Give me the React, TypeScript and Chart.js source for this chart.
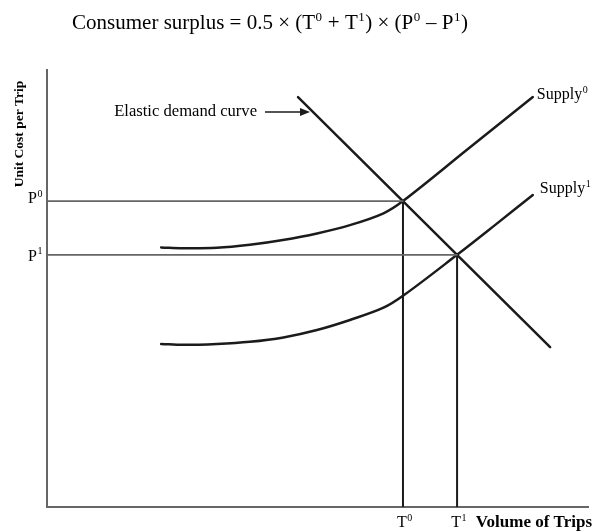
import React, { useEffect, useRef } from "react";
import { Chart, registerables } from "chart.js";

Chart.register(...registerables);

// Economic schematic: values in arbitrary units (0-100)
const T0 = 65.8;
const T1 = 75.8;
const P0 = 70.0;
const P1 = 57.7;

const demandX = [46.4, 93.0];
const demandY = [93.8, 36.6];

const supply0X = [21.1, 25.1, 31.4, 37.5, 43.6, 49.9, 56.0, 62.2, 65.8, 77.8, 89.8];
const supply0Y = [59.4, 59.2, 59.3, 60.0, 61.1, 62.6, 64.5, 67.2, 70.0, 81.9, 93.8];

const supply1X = [21.1, 25.2, 31.4, 37.5, 43.7, 49.9, 56.0, 62.2, 66.0, 75.8, 82.8, 89.8];
const supply1Y = [37.3, 37.1, 37.3, 37.8, 38.8, 40.5, 42.8, 45.6, 48.5, 57.7, 64.5, 71.4];

// "^x" marks a superscript character
const titleText = "Consumer surplus = 0.5 \u00d7 (T^0 + T^1) \u00d7 (P^0 \u2013 P^1)";
const yAxisTitle = "Unit Cost per Trip";
const xAxisTitle = "Volume of Trips";
const priceLabels = ["P^0", "P^1"];
const tripLabels = ["T^0", "T^1"];
const supplyLabels = ["Supply^0", "Supply^1"];
const demandLabel = "Elastic demand curve";
const demandLabelY = 90.4;

const zip = (xs: number[], ys: number[]) => xs.map((x, i) => ({ x, y: ys[i] }));

const SERIF = '"Liberation Serif", "Times New Roman", serif';
const INK = "#1b1b1b";
const GUIDE = "#666666";

function parseRich(s: string) {
  const parts: { t: string; sup: boolean }[] = [];
  let buf = "";
  for (let i = 0; i < s.length; i++) {
    if (s[i] === "^" && i + 1 < s.length) {
      if (buf) parts.push({ t: buf, sup: false });
      buf = "";
      parts.push({ t: s[i + 1], sup: true });
      i++;
    } else buf += s[i];
  }
  if (buf) parts.push({ t: buf, sup: false });
  return parts;
}

function drawRich(ctx: any, s: string, x: number, y: number, size: number, align: string, bold = false) {
  const parts = parseRich(s);
  const w = bold ? "bold " : "";
  const fBase = `${w}${size}px ${SERIF}`;
  const fSup = `${w}${Math.round(size * 0.62)}px ${SERIF}`;
  let total = 0;
  const widths = parts.map((p) => {
    ctx.font = p.sup ? fSup : fBase;
    const m = ctx.measureText(p.t).width + (p.sup ? 1 : 0);
    total += m;
    return m;
  });
  let cx = align === "center" ? x - total / 2 : align === "right" ? x - total : x;
  ctx.textAlign = "left";
  ctx.textBaseline = "alphabetic";
  parts.forEach((p, i) => {
    ctx.font = p.sup ? fSup : fBase;
    ctx.fillText(p.t, cx + (p.sup ? 0.5 : 0), p.sup ? y - size * 0.4 : y);
    cx += widths[i];
  });
}

const annotations = {
  id: "annotations",
  afterDraw(chart: any) {
    const { ctx, chartArea, scales } = chart;
    const xs = scales.x;
    const ys = scales.y;
    ctx.save();
    ctx.fillStyle = "#000";

    // title
    drawRich(ctx, titleText, 270, 29, 21, "center");

    // y axis title
    ctx.save();
    ctx.translate(23, 134);
    ctx.rotate(-Math.PI / 2);
    ctx.font = `bold 13.5px ${SERIF}`;
    ctx.textAlign = "center";
    ctx.textBaseline = "alphabetic";
    ctx.fillText(yAxisTitle, 0, 0);
    ctx.restore();

    // price labels
    drawRich(ctx, priceLabels[0], chartArea.left - 4, ys.getPixelForValue(P0) + 2, 16, "right");
    drawRich(ctx, priceLabels[1], chartArea.left - 4, ys.getPixelForValue(P1) + 6, 16, "right");

    // trip labels
    drawRich(ctx, tripLabels[0], xs.getPixelForValue(T0) + 2, chartArea.bottom + 20, 16, "center");
    drawRich(ctx, tripLabels[1], xs.getPixelForValue(T1) + 2, chartArea.bottom + 20, 16, "center");

    // x axis title
    ctx.font = `bold 17px ${SERIF}`;
    ctx.textAlign = "right";
    ctx.textBaseline = "alphabetic";
    ctx.fillText(xAxisTitle, chartArea.right + 4, chartArea.bottom + 20);

    // supply labels
    const s0x = xs.getPixelForValue(supply0X[supply0X.length - 1]);
    const s0y = ys.getPixelForValue(supply0Y[supply0Y.length - 1]);
    drawRich(ctx, supplyLabels[0], s0x + 4, s0y + 2, 16, "left");
    const s1x = xs.getPixelForValue(supply1X[supply1X.length - 1]);
    const s1y = ys.getPixelForValue(supply1Y[supply1Y.length - 1]);
    drawRich(ctx, supplyLabels[1], s1x + 7, s1y - 2, 16, "left");

    // demand label with arrow
    const ly = ys.getPixelForValue(demandLabelY);
    const slope = (demandY[1] - demandY[0]) / (demandX[1] - demandX[0]);
    const tipVal = demandX[0] + (demandLabelY - demandY[0]) / slope;
    const tipX = xs.getPixelForValue(tipVal) - 3;
    const startX = tipX - 45;
    ctx.font = `16.6px ${SERIF}`;
    ctx.textAlign = "right";
    ctx.textBaseline = "middle";
    ctx.fillText(demandLabel, startX - 8, ly);
    ctx.strokeStyle = INK;
    ctx.lineWidth = 1.6;
    ctx.beginPath();
    ctx.moveTo(startX, ly);
    ctx.lineTo(tipX - 8, ly);
    ctx.stroke();
    ctx.fillStyle = INK;
    ctx.beginPath();
    ctx.moveTo(tipX, ly);
    ctx.lineTo(tipX - 10, ly - 4);
    ctx.lineTo(tipX - 10, ly + 4);
    ctx.closePath();
    ctx.fill();
    ctx.restore();
  },
};

export default function App() {
  const ref = useRef<HTMLCanvasElement>(null);
  useEffect(() => {
    if (!ref.current) return;
    const line = (data: any[], color: string, width: number, tension = 0) => ({
      data,
      showLine: true,
      borderColor: color,
      borderWidth: width,
      pointRadius: 0,
      tension,
      borderCapStyle: "round",
      fill: false,
    });
    const chart = new Chart(ref.current, {
      type: "scatter",
      data: {
        datasets: [
          line([{ x: 0, y: P0 }, { x: T0, y: P0 }], GUIDE, 1.6),
          line([{ x: 0, y: P1 }, { x: T1, y: P1 }], GUIDE, 1.6),
          line([{ x: T0, y: 0 }, { x: T0, y: P0 }], INK, 2),
          line([{ x: T1, y: 0 }, { x: T1, y: P1 }], INK, 2),
          line(zip(demandX, demandY), INK, 2.5),
          line(zip(supply0X, supply0Y), INK, 2.5, 0.35),
          line(zip(supply1X, supply1Y), INK, 2.5, 0.35),
        ] as any,
      },
      options: {
        animation: false,
        responsive: true,
        maintainAspectRatio: false,
        layout: { padding: { left: 47, right: 6, top: 70, bottom: 25 } },
        plugins: { legend: { display: false }, tooltip: { enabled: false }, title: { display: false } },
        scales: {
          x: {
            type: "linear",
            min: 0,
            max: 100,
            ticks: { display: false },
            grid: { display: false, drawTicks: false },
            border: { display: true, color: GUIDE, width: 2 },
            afterFit: (s: any) => { s.height = 0; },
          },
          y: {
            type: "linear",
            min: 0,
            max: 100,
            ticks: { display: false },
            grid: { display: false, drawTicks: false },
            border: { display: true, color: GUIDE, width: 2 },
            afterFit: (s: any) => { s.width = 0; },
          },
        },
      } as any,
      plugins: [annotations],
    });
    return () => chart.destroy();
  }, []);
  return (
    <div style={{ position: "fixed", left: 0, top: 0, width: 594, height: 532, background: "#fff" }}>
      <canvas ref={ref} />
    </div>
  );
}
